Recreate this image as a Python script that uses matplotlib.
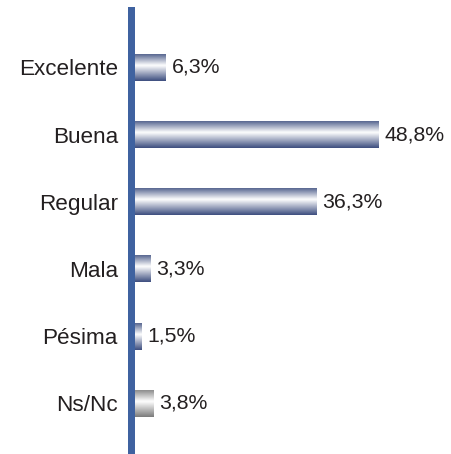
import matplotlib
matplotlib.use('Agg')
import matplotlib.pyplot as plt
import numpy as np
from matplotlib.colors import LinearSegmentedColormap

categories = ['Excelente', 'Buena', 'Regular', 'Mala', 'Pésima', 'Ns/Nc']
values = [6.3, 48.8, 36.3, 3.3, 1.5, 3.8]
labels = ['6,3%', '48,8%', '36,3%', '3,3%', '1,5%', '3,8%']

plt.rcParams['font.family'] = ['Liberation Sans', 'DejaVu Sans']
text_color = '#231f20'

blue_cmap = LinearSegmentedColormap.from_list(
    'bluebar', [(0, '#56658f'), (0.42, '#ffffff'), (1, '#3b4c7e')])
gray_cmap = LinearSegmentedColormap.from_list(
    'graybar', [(0, '#8c8c8c'), (0.42, '#ffffff'), (1, '#7a7a7a')])

fig = plt.figure(figsize=(4.51, 4.54), dpi=100)
# axes placed so the left spine sits where the blue axis line is
ax = fig.add_axes([130.5 / 451, 0, 314.5 / 451, 444 / 454])

y = np.arange(len(categories))
bars = ax.barh(y, values, height=0.4, color='none', edgecolor='none')

grad = np.linspace(0, 1, 256).reshape(-1, 1)
for i, patch in enumerate(bars.patches):
    x0, y0 = patch.get_x(), patch.get_y()
    w, h = patch.get_width(), patch.get_height()
    cmap = gray_cmap if categories[i] == 'Ns/Nc' else blue_cmap
    im = ax.imshow(grad, cmap=cmap, aspect='auto', interpolation='bicubic',
                   extent=(x0, x0 + w, y0 + h, y0), zorder=2)
    im.set_clip_path(patch)
    ax.annotate(labels[i], xy=(x0 + w, y[i]), xytext=(4.3, 0),
                textcoords='offset points', va='center', ha='left',
                fontsize=15.3, color=text_color)

ax.set_xlim(-0.70, 61.95)
ax.set_ylim(5.754, -0.853)
ax.set_yticks(y)
ax.set_yticklabels(categories, fontsize=16.2, color=text_color)
ax.set_xticks([])
ax.tick_params(axis='y', length=0, pad=9)

for side in ['top', 'right', 'bottom']:
    ax.spines[side].set_visible(False)
ax.spines['left'].set_color('#3f62a0')
ax.spines['left'].set_linewidth(5.04)
ax.spines['left'].set_zorder(3)

fig.savefig('out.png', dpi=100)
